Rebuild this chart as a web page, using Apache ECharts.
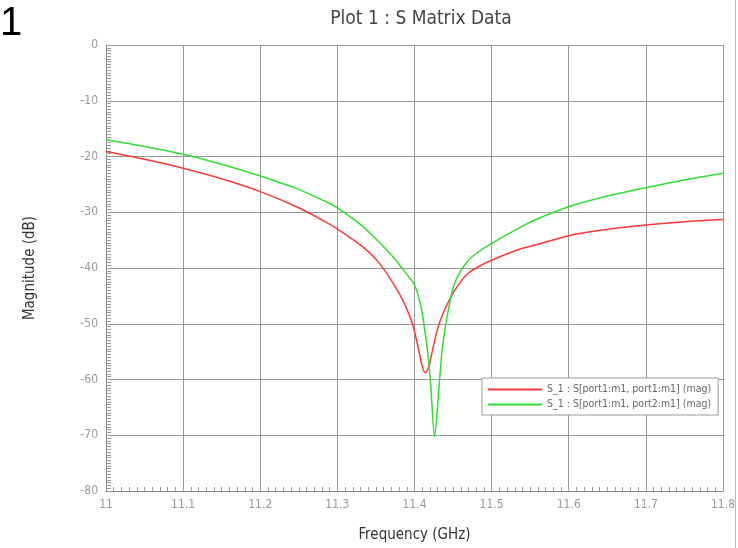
<!DOCTYPE html>
<html>
<head>
<meta charset="utf-8">
<script src="https://cdn.jsdelivr.net/npm/echarts@6/dist/echarts.min.js"></script>
<style>html,body{margin:0;padding:0;background:#fff}#c{width:738px;height:548px}</style>
</head>
<body>
<div id="c"></div>
<script>
const titleText = 'Plot 1 : S Matrix Data';
const xName = 'Frequency (GHz)';
const yName = 'Magnitude (dB)';
const s11Name = 'S_1 : S[port1:m1, port1:m1] (mag)';
const s21Name = 'S_1 : S[port1:m1, port2:m1] (mag)';

const s11Freq = [11.000, 11.050, 11.100, 11.150, 11.200, 11.250, 11.288, 11.300, 11.331, 11.353, 11.374, 11.387, 11.398, 11.404, 11.410, 11.414, 11.418, 11.422, 11.428, 11.434, 11.447, 11.458, 11.470, 11.485, 11.500, 11.537, 11.559, 11.600, 11.644, 11.700, 11.750, 11.800];
const s11Mag  = [-19.1, -20.5, -22.1, -24.0, -26.3, -29.2, -32.0, -33.0, -36.0, -38.9, -43.1, -46.4, -50.3, -53.8, -57.6, -58.8, -58.0, -55.6, -52.0, -49.2, -45.2, -42.8, -40.9, -39.6, -38.6, -36.6, -35.8, -34.2, -33.2, -32.3, -31.7, -31.3];

const s21Freq = [11.000, 11.050, 11.100, 11.150, 11.200, 11.250, 11.288, 11.300, 11.331, 11.353, 11.374, 11.387, 11.400, 11.409, 11.417, 11.421, 11.426, 11.432, 11.436, 11.443, 11.451, 11.460, 11.470, 11.480, 11.500, 11.537, 11.559, 11.600, 11.644, 11.700, 11.750, 11.800];
const s21Mag  = [-17.0, -18.2, -19.6, -21.4, -23.5, -25.9, -28.3, -29.2, -32.3, -35.2, -38.3, -40.6, -43.0, -47.4, -55.0, -61.0, -70.3, -61.0, -54.5, -48.2, -43.1, -40.5, -38.6, -37.4, -35.6, -32.7, -31.2, -29.0, -27.3, -25.6, -24.2, -23.0];

const xMin = 11.0, xMax = 11.8, xStep = 0.1;
const yMin = -80, yMax = 0, yStep = 10;

const narrow = '"Liberation Sans Narrow", "DejaVu Sans Condensed", "Liberation Sans", sans-serif';
const chart = echarts.init(document.getElementById('c'), null, {renderer: 'canvas'});
const pair = (xs, ys) => xs.map((x, i) => [x, ys[i]]);

chart.setOption({
  animation: false,
  backgroundColor: '#fff',
  title: {
    text: titleText, left: 416, top: 5, textAlign: 'center',
    textStyle: {fontFamily: narrow, fontSize: 19, fontWeight: 'normal', color: '#444'}
  },
  graphic: [
    {type: 'text', left: 0, top: 4, style: {text: '1', fontFamily: '"Liberation Sans", Arial, sans-serif', fontSize: 40, fill: '#000'}},
    {type: 'line', shape: {x1: 735.5, y1: 0, x2: 735.5, y2: 548}, style: {stroke: '#f3a0a0', lineWidth: 1}}
  ],
  grid: {left: 106, right: 11, top: 45, bottom: 56},
  legend: {
    orient: 'vertical', left: 482, top: 378,
    backgroundColor: '#fff', borderColor: '#999', borderWidth: 1,
    padding: [6, 7, 5, 6], itemGap: 4,
    itemWidth: 54, itemHeight: 2, icon: 'rect',
    textStyle: {fontFamily: narrow, fontSize: 10.5, color: '#666'},
    data: [s11Name, s21Name]
  },
  xAxis: {
    type: 'value', min: xMin, max: xMax, interval: xStep,
    name: xName, nameLocation: 'middle', nameGap: 37,
    nameTextStyle: {fontFamily: narrow, fontSize: 15, color: '#333'},
    axisLine: {onZero: false, lineStyle: {color: '#888'}},
    axisTick: {show: false, inside: true},
    minorTick: {show: true, splitNumber: 10, length: 4, lineStyle: {color: '#999'}},
    axisLabel: {fontFamily: narrow, fontSize: 12, color: '#999', margin: 8},
    splitLine: {show: true, lineStyle: {color: '#999', width: 1}}
  },
  yAxis: {
    type: 'value', min: yMin, max: yMax, interval: yStep,
    name: yName, nameLocation: 'middle', nameGap: 68, nameRotate: 90,
    nameTextStyle: {fontFamily: narrow, fontSize: 15, color: '#333'},
    axisLine: {show: true, onZero: false, lineStyle: {color: '#888'}},
    axisTick: {show: false, inside: true},
    minorTick: {show: true, splitNumber: 20, length: 5, lineStyle: {color: '#999'}},
    axisLabel: {fontFamily: narrow, fontSize: 12, color: '#999', margin: 8},
    splitLine: {show: true, lineStyle: {color: '#999', width: 1}}
  },
  series: [
    {name: s11Name, type: 'line', data: pair(s11Freq, s11Mag), showSymbol: false, symbol: 'none',
     smooth: 0.25, lineStyle: {color: '#ff3838', width: 1.5}, itemStyle: {color: '#ff3838'}},
    {name: s21Name, type: 'line', data: pair(s21Freq, s21Mag), showSymbol: false, symbol: 'none',
     smooth: 0.25, lineStyle: {color: '#30e030', width: 1.5}, itemStyle: {color: '#30e030'}}
  ]
});
</script>
</body>
</html>
